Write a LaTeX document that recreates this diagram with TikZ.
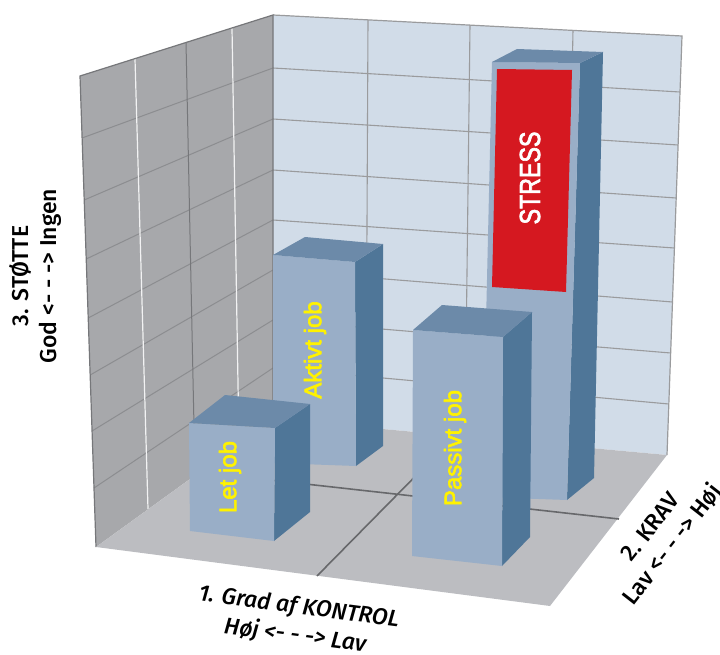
\documentclass[tikz,border=0pt]{standalone}
\usepackage{fontspec}
\newfontfamily\axisfont[UprightFont={* Medium},ItalicFont={* Medium Italic}]{Fira Sans}
\newfontfamily\barfont[FakeBold=2.5]{Liberation Sans}
\definecolor{wallL}{HTML}{A7A8AB}
\definecolor{wallLline}{HTML}{8C8D90}
\definecolor{wallLedge}{HTML}{76777A}
\definecolor{wallB}{HTML}{D1DCE8}
\definecolor{wallBline}{HTML}{9A9B9D}
\definecolor{floorC}{HTML}{BCBDC1}
\definecolor{floorline}{HTML}{67686B}
\definecolor{barFront}{HTML}{99AEC7}
\definecolor{barTop}{HTML}{6C8AA9}
\definecolor{barSide}{HTML}{4F7698}
\definecolor{stressRed}{HTML}{D51820}
\definecolor{jobYellow}{HTML}{FFF200}
\begin{document}
\begin{tikzpicture}[x=1pt,y=-1pt,
  barfront/.style={fill=barFront},
  bartop/.style={fill=barTop},
  barside/.style={fill=barSide},
  joblabel/.style={text=jobYellow,font=\barfont\fontsize{24}{24}\selectfont,inner sep=0pt,rotate=90},
  axislabel/.style={text=black,font=\axisfont\fontsize{23}{28}\selectfont,align=center,inner sep=0pt}]
\useasboundingbox (0,0) rectangle (720,655);

% corners of the box
\coordinate (LT) at (80,76);     % left wall, top front
\coordinate (LB) at (96,547);    % left wall, bottom front
\coordinate (CT) at (273,15);    % back corner, top
\coordinate (CB) at (273,419);   % back corner, bottom
\coordinate (RT) at (682,36);    % back wall, top right
\coordinate (RB) at (667,455);   % back wall, bottom right
\coordinate (FR) at (550,606);   % floor, front right

% back wall
\fill[wallB] (CT) -- (RT) -- (RB) -- (CB) -- cycle;
\foreach \a/\b in {68/92,119/145,170/198,220/248,270/302,320/353,368/404}
  \draw[wallBline,line width=1.1pt] (273,\a) -- ({682-15*(\b-36)/419},\b);
\foreach \xt/\yt/\xb/\yb in {368/20/366/428, 470/25/465/437, 573/30/565/446}
  \draw[wallBline,line width=1.1pt] (\xt,\yt) -- (\xb,\yb);
\draw[wallBline,line width=1.2pt] (CT) -- (RT) -- (RB);

% left wall
\fill[wallL] (LT) -- (CT) -- (CB) -- (LB) -- cycle;
\foreach \l/\a in {138/68,200/119,259/170,318/220,375/270,431/320,488/368}
  \draw[wallLline,line width=1pt] ({80+16*(\l-76)/471},\l) -- (273,\a);
\draw[white!85!wallL,line width=1.2pt] (135,59) -- (148,509);
\draw[wallLedge,line width=1pt] (186,42) -- (195,475);
\draw[white!85!wallL,line width=1.2pt] (232,28) -- (239,443);
\draw[wallLedge,line width=1.2pt] (LB) -- (LT) -- (CT) -- (CB);

% floor
\fill[floorC] (LB) -- (CB) -- (RB) -- (FR) -- cycle;
\draw[floorline,line width=1.6pt] (317,576) -- (455,436);
\draw[floorline,line width=1.6pt] (198,472) -- (619,519);

% STRESS bar
\fill[barside]  (580,63) -- (603,52) -- (594,478) -- (567,500) -- cycle;
\fill[barfront] (492,62) -- (580,63) -- (567,500) -- (482,497) -- cycle;
\fill[bartop]   (492,62) -- (517,49) -- (603,52) -- (580,63) -- cycle;
\fill[stressRed] (497,69) -- (572,70) -- (566,292) -- (492,287) -- cycle;
\node[text=white,font=\barfont\fontsize{29}{29}\selectfont,inner sep=0pt,rotate=90] (stress) at (530,178) {\scalebox{0.8}[1]{STRESS}};

% Aktivt job bar
\fill[barside]  (355,262) -- (383,244) -- (383,446) -- (356,466) -- cycle;
\fill[barfront] (273,255) -- (355,262) -- (356,466) -- (273,463) -- cycle;
\fill[bartop]   (273,255) -- (305,237) -- (383,244) -- (355,262) -- cycle;
\node[joblabel] (aktivt) at (315,350) {Aktivt job};

% Passivt job bar
\fill[barside]  (503,337) -- (532,312) -- (530,537) -- (502,566) -- cycle;
\fill[barfront] (413,330) -- (503,337) -- (502,566) -- (412,556) -- cycle;
\fill[bartop]   (413,330) -- (442,305) -- (532,312) -- (503,337) -- cycle;
\node[joblabel] (passivt) at (455,448) {Passivt job};

% Let job bar
\fill[barside]  (275,428) -- (310,404) -- (310,512) -- (274,541) -- cycle;
\fill[barfront] (189,423) -- (275,428) -- (274,541) -- (190,531) -- cycle;
\fill[bartop]   (189,423) -- (225,395) -- (310,404) -- (275,428) -- cycle;
\node[joblabel] (let) at (230,477) {Let job};

% axis titles
\node[axislabel,rotate=90] (stotte) at (36,276) {3. STØTTE\\God <- - -> Ingen};
\node[axislabel,rotate=-7.5,font=\axisfont\itshape\fontsize{23}{29}\selectfont] (kontrol) at (297,622) {1. Grad af KONTROL\\Høj <- - -> Lav};
\node[axislabel,rotate=52] (krav) at (663,537) {2. KRAV\\Lav <- - -> Høj};
\end{tikzpicture}
\end{document}
